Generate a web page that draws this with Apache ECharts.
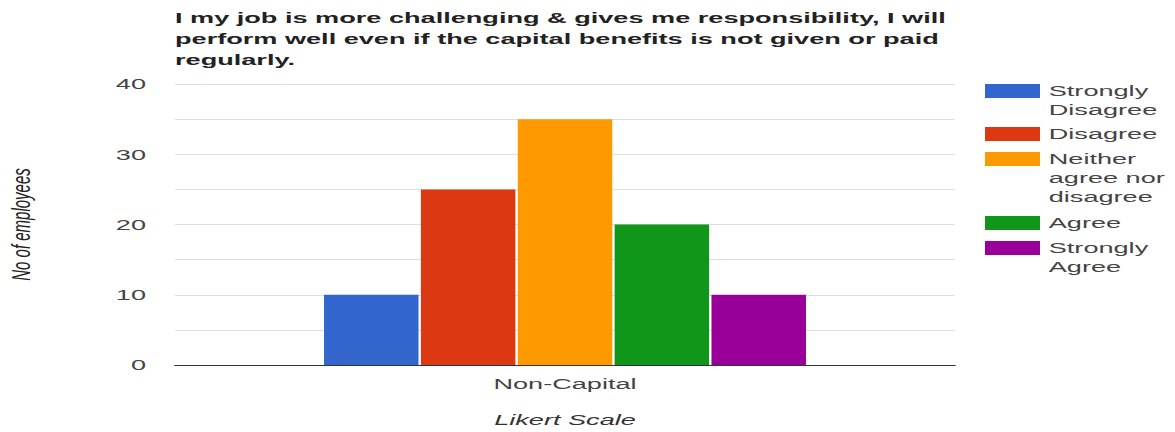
<!DOCTYPE html>
<html>
<head>
<meta charset="utf-8">
<script src="https://cdn.jsdelivr.net/npm/echarts@6/dist/echarts.min.js"></script>
<style>
  html, body { margin: 0; padding: 0; background: #fff; overflow: hidden; }
  /* the chart is laid out on a narrow canvas and widened horizontally */
  #chart { width: 671.43px; height: 432px; transform: scaleX(1.75); transform-origin: 0 0; }
</style>
</head>
<body>
<div id="chart"></div>
<script>
// Survey responses: number of employees per Likert answer
const categories = ['Non-Capital'];
const responses = ['Strongly Disagree', 'Disagree', 'Neither agree nor disagree', 'Agree', 'Strongly Agree'];
const legendLabels = ['Strongly\nDisagree', 'Disagree', 'Neither\nagree nor\ndisagree', 'Agree', 'Strongly\nAgree'];
const counts = [10, 25, 35, 20, 10];
const colors = ['#3366cc', '#dc3912', '#ff9900', '#109618', '#990099'];
const yTicks = [0, 10, 20, 30, 40];

const titleText = 'I my job is more challenging & gives me responsibility, I will\nperform well even if the capital benefits is not given or paid\nregularly.';

const SX = 1.75;              // horizontal widening applied by CSS
const W = 1175 / SX;
const FONT = 'Liberation Sans, Arial, sans-serif';
const LINE_H = 19;
const ICON_H = 14;
// icon top positions of the legend entries
const legendIconTops = [84, 127, 152, 216, 241];

const series = responses.map((name, i) => ({
  name: name,
  type: 'bar',
  barWidth: 94.5 / SX,
  barGap: '2.5%',
  itemStyle: { color: colors[i] },
  emphasis: { disabled: true },
  data: [counts[i]]
}));

// one legend block per entry so the swatch lines up with the first text line
const legends = responses.map((name, i) => {
  const lines = legendLabels[i].split('\n').length;
  const textH = (2 * lines - 1) * LINE_H;
  const offset = ICON_H / 2 - textH / 2;
  return {
    orient: 'vertical',
    left: 985 / SX,
    top: legendIconTops[i] + offset,
    padding: 0,
    itemWidth: 55 / SX,
    itemHeight: ICON_H,
    itemGap: 0,
    icon: 'rect',
    selectedMode: false,
    data: [name],
    // blank lines above keep the first text line level with the swatch
    formatter: () => '\n'.repeat(lines - 1) + legendLabels[i],
    textStyle: {
      fontFamily: FONT,
      fontSize: 15.5,
      lineHeight: LINE_H,
      color: '#444'
    }
  };
});

const chart = echarts.init(document.getElementById('chart'), null, {
  renderer: 'svg', width: W, height: 432
});
chart.setOption({
  animation: false,
  title: {
    text: titleText,
    left: 100,
    top: 7,
    padding: 0,
    textStyle: {
      fontFamily: FONT,
      fontSize: 15.5,
      fontWeight: 'bold',
      lineHeight: 21,
      color: '#222'
    }
  },
  legend: legends,
  grid: {
    left: 175 / SX, right: 220 / SX, top: 84, bottom: 67,
    outerBoundsMode: 'none'
  },
  xAxis: {
    type: 'category',
    data: categories,
    name: 'Likert Scale',
    nameLocation: 'middle',
    nameGap: 47,
    nameTextStyle: {
      fontFamily: FONT,
      fontSize: 15.5,
      fontStyle: 'italic',
      color: '#333'
    },
    axisLine: { lineStyle: { color: '#333', width: 1 } },
    axisTick: { show: false },
    axisLabel: {
      margin: 11,
      fontFamily: FONT,
      fontSize: 15.5,
      color: '#444'
    }
  },
  yAxis: {
    type: 'value',
    min: 0,
    max: 40,
    interval: 5,
    name: 'No of employees',
    nameLocation: 'middle',
    nameGap: 80.5,
    nameTextStyle: {
      fontFamily: FONT,
      fontSize: 15,
      fontStyle: 'italic',
      color: '#222'
    },
    axisLine: { show: false },
    axisTick: { show: false },
    splitLine: { lineStyle: { color: '#dedede', width: 1 } },
    axisLabel: {
      margin: 29 / SX,
      fontFamily: FONT,
      fontSize: 15.5,
      color: '#444',
      formatter: v => (yTicks.indexOf(v) >= 0 ? String(v) : '')
    }
  },
  series: series
});
</script>
</body>
</html>
